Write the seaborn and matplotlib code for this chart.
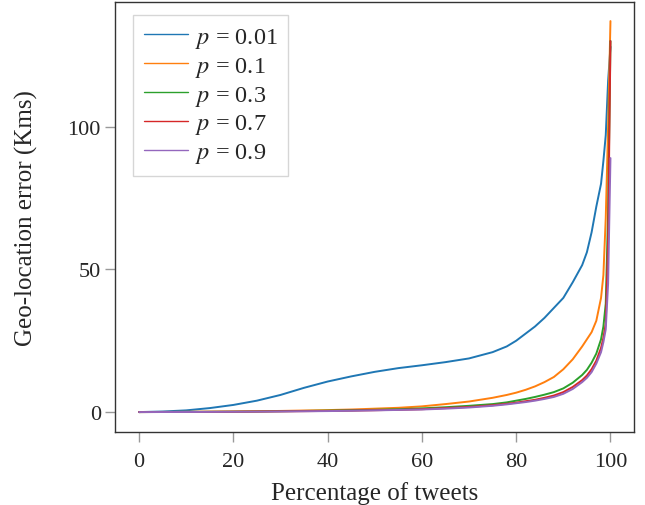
import pandas as pd
import numpy as np
import matplotlib
matplotlib.use('Agg')
import matplotlib.pyplot as plt
import seaborn as sns

# Percentage of tweets (x) shared by all curves
pct = [0, 5, 10, 15, 20, 25, 30, 35, 40, 45, 50, 55, 60, 65, 70, 75, 78, 80, 82, 84, 86, 88,
       90, 92, 94, 95, 96, 97, 98, 98.5, 99, 99.5, 100]

# Geo-location error (Kms) for each p
err_001 = [0, 0.2, 0.6, 1.4, 2.5, 4.0, 6.0, 8.5, 10.7, 12.5, 14.1, 15.4, 16.4, 17.5, 18.8, 21.0, 23.0,
           25.0, 27.5, 30.0, 33.0, 36.5, 40.0, 45.5, 51.5, 56, 63, 72, 80, 88, 97, 116, 128]
err_01 = [0, 0.05, 0.1, 0.15, 0.2, 0.3, 0.4, 0.55, 0.7, 0.9, 1.2, 1.5, 2.0, 2.8, 3.7, 5.0, 6.0,
          6.8, 7.8, 9.0, 10.5, 12.3, 15.0, 18.5, 23, 25.5, 28, 32, 40, 48, 68, 100, 137]
err_03 = [0, 0.03, 0.05, 0.1, 0.15, 0.2, 0.3, 0.4, 0.5, 0.65, 0.8, 1.0, 1.3, 1.7, 2.2, 2.8, 3.4,
          4.0, 4.6, 5.3, 6.1, 7.0, 8.3, 10.3, 13, 14.8, 17.3, 20.5, 25.5, 30, 38, 70, 130]
err_07 = [0, 0.02, 0.04, 0.08, 0.12, 0.18, 0.25, 0.32, 0.4, 0.52, 0.65, 0.8, 1.0, 1.4, 1.8, 2.4, 2.9,
          3.3, 3.8, 4.3, 5.0, 5.8, 7.0, 8.8, 11.2, 12.8, 15, 18, 22.5, 26, 31, 60, 130]
err_09 = [0, 0.02, 0.03, 0.06, 0.1, 0.15, 0.2, 0.28, 0.35, 0.45, 0.6, 0.75, 0.9, 1.2, 1.6, 2.2, 2.7,
          3.1, 3.5, 4.0, 4.6, 5.3, 6.4, 8.1, 10.5, 12, 14, 17, 21, 24.5, 29, 45, 89]

labels = ['$p$ = 0.01', '$p$ = 0.1', '$p$ = 0.3', '$p$ = 0.7', '$p$ = 0.9']
series = [err_001, err_01, err_03, err_07, err_09]
colors = ['#1f77b4', '#ff7f0e', '#2ca02c', '#d62728', '#9467bd']

rows = []
for lab, vals in zip(labels, series):
    for x, y in zip(pct, vals):
        rows.append({'pct': x, 'err': y, 'p': lab})
df = pd.DataFrame(rows)

sns.set_style('white')
plt.rcParams['font.family'] = ['Liberation Serif', 'DejaVu Serif']
plt.rcParams['mathtext.fontset'] = 'stix'

fig = plt.figure(figsize=(6.45, 5.06), dpi=100)
ax = fig.add_axes([0.179, 0.145, 0.804, 0.85])

sns.lineplot(data=df, x='pct', y='err', hue='p', palette=colors, ax=ax, linewidth=1.4)

ax.set_xlabel('Percentage of tweets', fontsize=18, labelpad=7)
ax.set_ylabel('Geo-location error (Kms)', fontsize=18, labelpad=21)
ax.set_xticks([0, 20, 40, 60, 80, 100])
ax.set_yticks([0, 50, 100])
ax.tick_params(axis='both', labelsize=16, direction='out', length=7, width=1,
               color='#999999', left=True, bottom=True)
ax.tick_params(axis='x', pad=8)
for s in ax.spines.values():
    s.set_color('#333333')
    s.set_linewidth(1.0)

leg = ax.legend(loc='upper left', fontsize=17.5, frameon=True, fancybox=False,
                handlelength=1.85, handletextpad=0.25, borderpad=0.45, labelspacing=0.2,
                borderaxespad=0, bbox_to_anchor=(0.033, 0.969))
leg.get_frame().set_edgecolor('#cccccc')
leg.get_frame().set_linewidth(1.0)
for line in leg.get_lines():
    line.set_linewidth(1.0)

fig.savefig('out.png', dpi=100)
